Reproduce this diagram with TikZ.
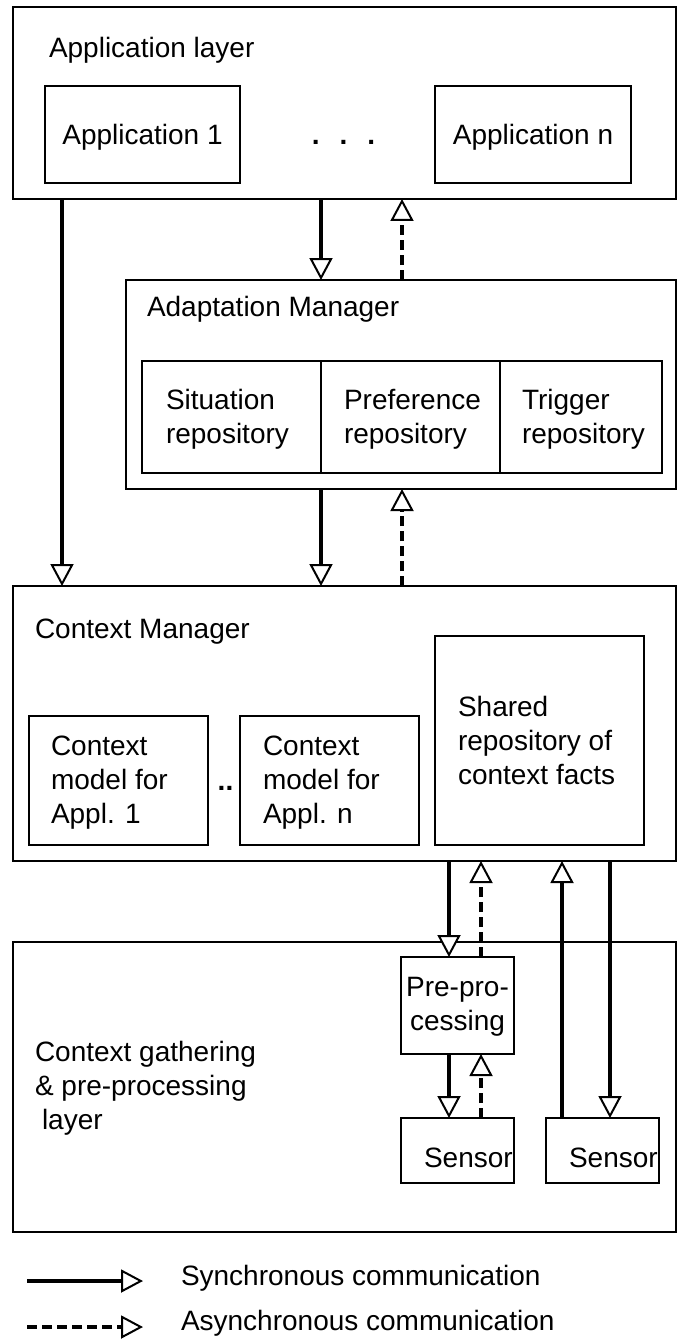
\documentclass[tikz,border=0pt]{standalone}
\usepackage{fontspec}
\setmainfont{Liberation Sans}
\usetikzlibrary{arrows.meta}
\begin{document}
\begin{tikzpicture}[x=1pt,y=-1pt,
  box/.style={draw, line width=2pt, inner sep=0pt, outer sep=0pt, anchor=north west},
  lbl/.style={inner sep=0pt, outer sep=0pt, align=left, font=\fontsize{28}{34}\selectfont},
  headtip/.style={-{Triangle[open, fill=white, length=22pt, width=23pt, line width'=2pt]}},
  syncline/.style={headtip, line width=4pt},
  asyncline/.style={headtip, line width=4pt, dash pattern=on 10pt off 5pt},
]
\useasboundingbox (0,0) rectangle (680,1340);

% Application layer
\node[box, minimum width=663pt, minimum height=192pt] (app) at (13,7) {};
\node[lbl, anchor=base west] (applbl) at (49,58) {Application layer};
\node[box, minimum width=195pt, minimum height=97pt] (app1) at (45,86) {};
\node[box, minimum width=196pt, minimum height=97pt] (appn) at (435,86) {};
\node[lbl, anchor=base] (app1t) at (app1.center |- 0,145) {Application 1};
\node[lbl, anchor=base] (appnt) at (appn.center |- 0,145) {Application n};
\node[lbl, anchor=base] (appdots) at (343.5,145) {\textbf{.}\hspace{20pt}\textbf{.}\hspace{20pt}\textbf{.}};

% Adaptation manager
\node[box, minimum width=550pt, minimum height=209pt] (adapt) at (126,280) {};
\node[lbl, anchor=base west] (adaptlbl) at (147,316) {Adaptation Manager};
\node[box, minimum width=179pt, minimum height=112pt] (sitrep) at (142,361) {};
\node[box, minimum width=179pt, minimum height=112pt] (prefrep) at (321,361) {};
\node[box, minimum width=162pt, minimum height=112pt] (trigrep) at (500,361) {};
\node[lbl, anchor=north west] (sitt) at (166,389) {Situation\\repository};
\node[lbl, anchor=north west] (preft) at (344,389) {Preference\\repository};
\node[lbl, anchor=north west] (trigt) at (522,389) {Trigger\\repository};

% Context manager
\node[box, minimum width=663pt, minimum height=275pt] (ctx) at (13,586) {};
\node[lbl, anchor=base west] (ctxlbl) at (35,638) {Context Manager};
\node[box, minimum width=179pt, minimum height=129pt] (cm1) at (29,716) {};
\node[box, minimum width=179pt, minimum height=129pt] (cmn) at (240,716) {};
\node[box, minimum width=209pt, minimum height=209pt] (shared) at (435,636) {};
\node[lbl, anchor=north west] (cm1t) at (51,736) {Context\\model for\\Appl. 1};
\node[lbl, anchor=north west] (cmnt) at (263,736) {Context\\model for\\Appl. n};
\node[lbl, anchor=base] (cmdots) at (225.5,790) {\textbf{..}};
\node[lbl, anchor=north west] (sharedt) at (458,696) {Shared\\repository of\\context facts};

% Context gathering and pre-processing layer
\node[box, minimum width=663pt, minimum height=290pt] (gather) at (13,942) {};
\node[lbl, anchor=north west] (gatherlbl) at (35,1041) {Context gathering\\\& pre-processing\\\hspace*{7pt}layer};
\node[box, minimum width=113pt, minimum height=97pt] (pre) at (401,957) {};
\node[lbl, anchor=north, align=center] (pret) at (457.5,977) {Pre-pro-\\cessing};
\node[box, minimum width=113pt, minimum height=65pt] (s1) at (401,1118) {};
\node[box, minimum width=113pt, minimum height=65pt] (s2) at (546,1118) {};
\node[lbl, anchor=base west] (s1t) at (424,1167) {Sensor};
\node[lbl, anchor=base west] (s2t) at (569,1167) {Sensor};

% columns of the connectors
\coordinate (xa) at (62,0);
\coordinate (xb) at (321,0);
\coordinate (xc) at (402,0);
\coordinate (xd) at (449,0);
\coordinate (xe) at (481,0);
\coordinate (xf) at (562,0);
\coordinate (xg) at (610,0);

\draw[syncline] (xa |- app.south) -- (xa |- ctx.north);
\draw[syncline] (xb |- app.south) -- (xb |- adapt.north);
\draw[asyncline] (xc |- adapt.north) -- (xc |- app.south);
\draw[syncline] (xb |- adapt.south) -- (xb |- ctx.north);
\draw[asyncline] (xc |- ctx.north) -- (xc |- adapt.south);
\draw[syncline] (xd |- ctx.south) -- (xd |- pre.north);
\draw[asyncline] (xe |- pre.north) -- (xe |- ctx.south);
\draw[syncline] (xf |- s2.north) -- (xf |- ctx.south);
\draw[syncline] (xg |- ctx.south) -- (xg |- s2.north);
\draw[syncline] (xd |- pre.south) -- (xd |- s1.north);
\draw[asyncline] (xe |- s1.north) -- (xe |- pre.south);

% legend
\coordinate (lsa) at (27,1281);
\coordinate (lsb) at (143,1281);
\coordinate (laa) at (27,1327);
\coordinate (lab) at (143,1327);
\draw[syncline] (lsa) -- (lsb);
\draw[asyncline] (laa) -- (lab);
\node[lbl, anchor=base west] (synct) at (181,1285) {Synchronous communication};
\node[lbl, anchor=base west] (asynct) at (181,1330) {Asynchronous communication};
\end{tikzpicture}
\end{document}
